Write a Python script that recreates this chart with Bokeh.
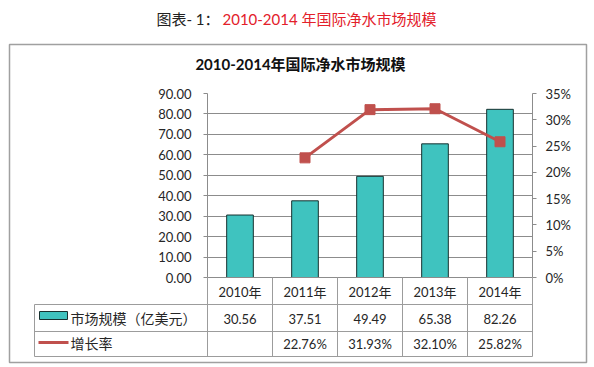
from bokeh.plotting import figure
from bokeh.models import (Range1d, LinearAxis, FixedTicker, NumeralTickFormatter,
                          PrintfTickFormatter, ColumnDataSource)
from bokeh.core.properties import value
from bokeh.embed import file_html
from bokeh.resources import INLINE

# ---------------- data ----------------
years = ["2010年", "2011年", "2012年", "2013年", "2014年"]
market = [30.56, 37.51, 49.49, 65.38, 82.26]          # 亿美元
growth_years = ["2011年", "2012年", "2013年", "2014年"]
growth = [22.76, 31.93, 32.10, 25.82]                  # %
left_ticks = [0, 10, 20, 30, 40, 50, 60, 70, 80, 90]
right_ticks = [0, 5, 10, 15, 20, 25, 30, 35]
series_names = ["市场规模（亿美元）", "增长率"]
page_title_a = "图表- 1："
page_title_b = "2010-2014 年国际净水市场规模"
chart_title = "2010-2014年国际净水市场规模"

# ---------------- styles / layout ----------------
NUM_FONT = "Lato, 'Noto Sans CJK SC'"
CJK_FONT = "'Noto Sans CJK SC'"
TXT = "#262626"
BAR = "#3fc3bf"
BAR_LINE = "#17302f"
RED = "#c0504d"
GRID = "#8c8c8c"
TABLE = "#9c9c9c"

W, H = 594, 367
FX0, FX1, FY0, FY1 = 207, 532, 93, 277     # plot frame in pixels

x_idx = list(range(len(years)))
g_idx = [years.index(y) for y in growth_years]
XLO, XHI = -0.5, len(years) - 0.5
YLO, YHI = left_ticks[0], left_ticks[-1]

# pixel -> data helpers for elements placed outside the frame (table, titles)
def dx(px):
    return XLO + (px - FX0) / (FX1 - FX0) * (XHI - XLO)

def dy(py):
    return YLO + (FY1 - py) / (FY1 - FY0) * (YHI - YLO)

p = figure(width=W, height=H, x_range=Range1d(XLO, XHI), y_range=Range1d(YLO, YHI),
           output_backend="svg", toolbar_location=None,
           min_border_left=FX0, min_border_right=W - FX1,
           min_border_top=FY0, min_border_bottom=H - FY1)
p.outline_line_color = None
p.background_fill_color = "white"
p.border_fill_color = "white"
p.extra_y_ranges = {"pct": Range1d(right_ticks[0], right_ticks[-1])}

# ---------------- grid ----------------
p.xgrid.visible = False
p.ygrid.ticker = FixedTicker(ticks=left_ticks)
p.ygrid.grid_line_color = GRID
p.ygrid.grid_line_width = 1

# ---------------- bars & line ----------------
p.vbar(x=x_idx, top=market, width=0.41, fill_color=BAR,
       line_color=BAR_LINE, line_width=1)
p.line(x=g_idx, y=growth, y_range_name="pct", line_color=RED, line_width=3)
p.scatter(x=g_idx, y=growth, y_range_name="pct", marker="square", size=10,
          fill_color=RED, line_color=RED)

# ---------------- axes ----------------
def style_axis(ax, standoff, tick_out=4):
    ax.axis_line_color = GRID
    ax.major_tick_line_color = GRID
    ax.major_tick_out = tick_out
    ax.major_tick_in = 0
    ax.minor_tick_line_color = None
    ax.major_label_standoff = standoff
    ax.major_label_text_font = NUM_FONT
    ax.major_label_text_font_size = "13px"
    ax.major_label_text_color = TXT

yax = p.yaxis[0]
yax.ticker = FixedTicker(ticks=left_ticks)
yax.formatter = NumeralTickFormatter(format="0.00")
style_axis(yax, 12)

rax = LinearAxis(y_range_name="pct", ticker=FixedTicker(ticks=right_ticks),
                 formatter=PrintfTickFormatter(format="%d%%"))
style_axis(rax, 9)
p.add_layout(rax, "right")

xax = p.xaxis[0]
xax.ticker = FixedTicker(ticks=x_idx)
xax.major_label_overrides = {i: y for i, y in zip(x_idx, years)}
style_axis(xax, 6, tick_out=0)
xax.major_tick_line_color = None

# ---------------- data table below the chart ----------------
ov = dict(level="overlay")
TL = dx(34)                        # table left edge
row_lines = [dy(304), dy(331), dy(356)]
p.segment(x0=[TL] * 3, y0=row_lines, x1=[XHI] * 3, y1=row_lines,
          line_color=TABLE, line_width=1, **ov)
bounds = [i - 0.5 for i in range(len(years) + 1)]
p.segment(x0=bounds, y0=[YLO] * len(bounds), x1=bounds, y1=[dy(356)] * len(bounds),
          line_color=TABLE, line_width=1, **ov)
p.segment(x0=[TL], y0=[dy(304)], x1=[TL], y1=[dy(356)],
          line_color=TABLE, line_width=1, **ov)

row1 = ColumnDataSource(dict(x=x_idx, y=[dy(318)] * len(x_idx),
                             t=[f"{v:.2f}" for v in market]))
row2 = ColumnDataSource(dict(x=g_idx, y=[dy(343)] * len(g_idx),
                             t=[f"{v:.2f}%" for v in growth]))
for src in (row1, row2):
    p.text(x="x", y="y", text="t", source=src, text_align="center",
           text_baseline="middle", text_font=value(NUM_FONT),
           text_font_size="13px", text_color=TXT, **ov)

# legend column
p.quad(left=[dx(39)], right=[dx(67)], top=[dy(311)], bottom=[dy(319)],
       fill_color=BAR, line_color=BAR_LINE, line_width=1, **ov)
p.segment(x0=[dx(38)], y0=[dy(342)], x1=[dx(68)], y1=[dy(342)],
          line_color=RED, line_width=3, **ov)
p.scatter(x=[dx(53)], y=[dy(342)], marker="square", size=9,
          fill_color=RED, line_color=RED, **ov)
p.text(x=[dx(70)] * 2, y=[dy(317), dy(342)], text=series_names,
       text_align="left", text_baseline="middle", text_font=value(CJK_FONT),
       text_font_size="14px", text_color=TXT, **ov)

# outer chart box
p.quad(left=[dx(9)], right=[dx(586)], top=[dy(44)], bottom=[dy(362)],
       fill_alpha=0, line_color="#a0a0a0", line_width=1.5, **ov)

# ---------------- titles ----------------
p.text(x=[dx(219)], y=[dy(18)], text=[page_title_a], text_align="right",
       text_baseline="middle", text_font=value(NUM_FONT), text_font_size="15px",
       text_color="#222222", **ov)
p.text(x=[dx(222)], y=[dy(18)], text=[page_title_b], text_align="left",
       text_baseline="middle", text_font=value(NUM_FONT), text_font_size="15px",
       text_color="#e3202a", **ov)
p.text(x=[dx(300)], y=[dy(63)], text=[chart_title], text_align="center",
       text_baseline="middle", text_font=value(NUM_FONT), text_font_size="15px",
       text_font_style="bold", text_color="#111111", **ov)

open("out.html", "w").write(file_html(p, INLINE))
